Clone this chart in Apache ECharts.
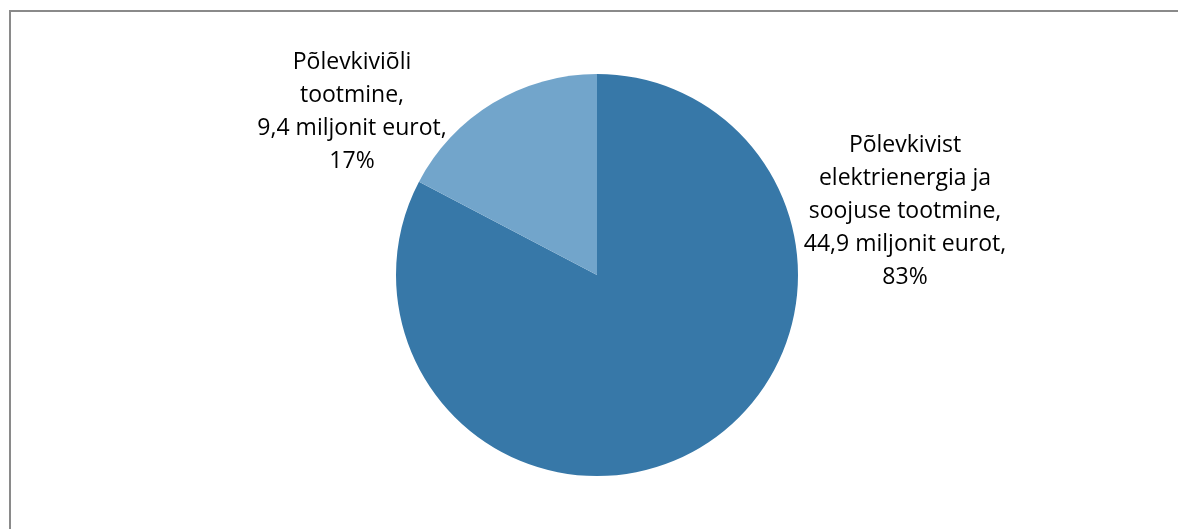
<!DOCTYPE html>
<html>
<head>
<meta charset="utf-8">
<script src="https://cdn.jsdelivr.net/npm/echarts@6/dist/echarts.min.js"></script>
<style>
  html, body { margin: 0; padding: 0; background: #fff; }
  #chart { width: 1178px; height: 529px; }
</style>
</head>
<body>
<div id="chart"></div>
<script>
// Oil shale sector output, million euros
const categories = [
  'Põlevkivist\nelektrienergia ja\nsoojuse tootmine',
  'Põlevkiviõli\ntootmine'
];
const values = [44.9, 9.4];
const colors = ['#3778A8', '#72A5CB'];

const seriesData = categories.map((name, i) => ({
  name: name,
  value: values[i],
  itemStyle: { color: colors[i] }
}));

// label anchor points (centre of each text block)
const labelPos = [
  { x: 905, y: 211 },
  { x: 352, y: 112 }
];

const chart = echarts.init(document.getElementById('chart'));
chart.setOption({
  animation: false,
  graphic: [{
    type: 'rect',
    shape: { x: 10, y: 11, width: 1250, height: 600 },
    style: { fill: 'none', stroke: '#8a8a8a', lineWidth: 2 },
    silent: true
  }],
  series: [{
    type: 'pie',
    center: [597, 275],
    radius: [0, 201],
    startAngle: 90,
    clockwise: true,
    data: seriesData,
    itemStyle: { borderWidth: 0 },
    emphasis: { disabled: true },
    labelLine: { show: false },
    label: {
      show: true,
      position: 'outside',
      color: '#000',
      fontFamily: 'Open Sans',
      fontSize: 23,
      lineHeight: 33,
      align: 'center',
      formatter: p => p.name + ',\n' +
        p.value.toFixed(1).replace('.', ',') + ' miljonit eurot,\n' +
        Math.round(p.percent) + '%'
    },
    labelLayout: p => ({
      x: labelPos[p.dataIndex].x,
      y: labelPos[p.dataIndex].y,
      align: 'center',
      verticalAlign: 'middle'
    })
  }]
});
</script>
</body>
</html>
